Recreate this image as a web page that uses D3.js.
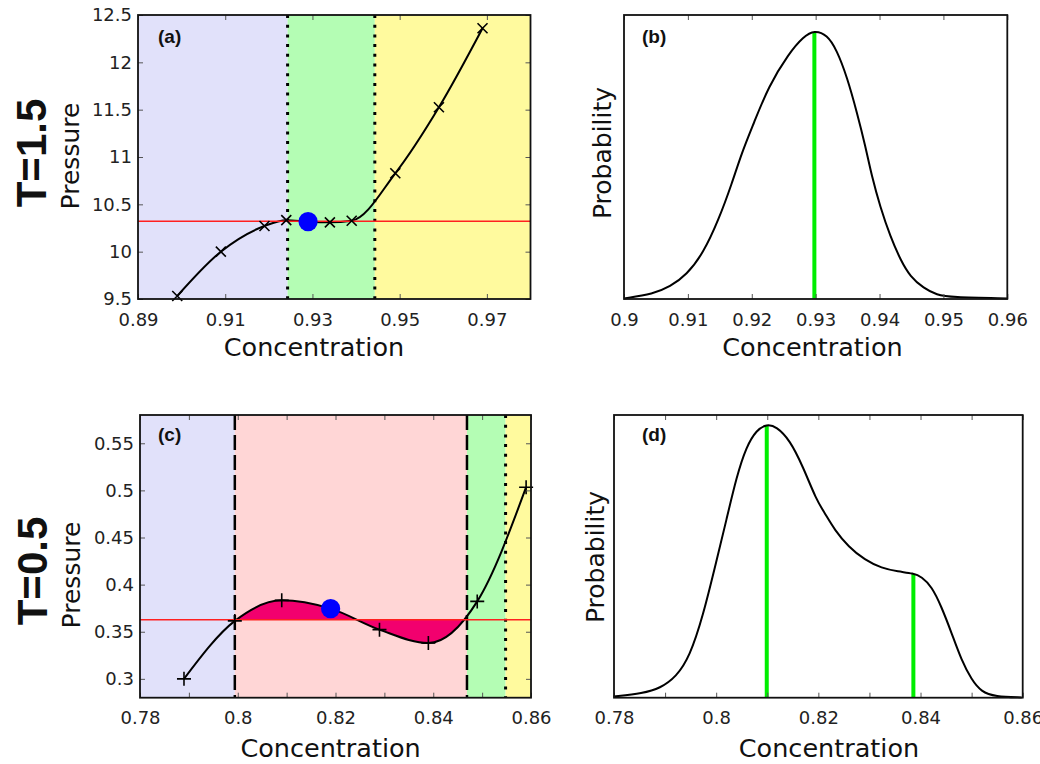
<!DOCTYPE html>
<html><head><meta charset="utf-8">
<script src="https://cdn.jsdelivr.net/npm/d3@7"></script>
<style>body{margin:0;background:#fff} svg{display:block}</style>
</head><body><svg id="chart" width="1040" height="764"></svg>
<script>
// ---------- Data: panel (a) T=1.5 ----------
const aConc = [0.899, 0.909, 0.919, 0.924, 0.934, 0.939, 0.949, 0.959, 0.969];
const aPres = [9.532, 10.0, 10.271, 10.333, 10.31, 10.327, 10.828, 11.525, 12.36];
const aBlue = [0.929, 10.317];
const aCoex = 10.322;
const aDotted = [0.9243, 0.9443];
const aXTicks = [0.89, 0.91, 0.93, 0.95, 0.97];
const aYTicks = [9.5, 10, 10.5, 11, 11.5, 12, 12.5];

// ---------- Data: panel (b) ----------
const bConc = [0.9, 0.9046, 0.9072, 0.9098, 0.9124, 0.9148, 0.9169, 0.9184, 0.9203, 0.9226, 0.9258, 0.9281, 0.9298,
               0.9318, 0.9333, 0.9349, 0.9365, 0.9378, 0.9388, 0.9401, 0.9417, 0.9433, 0.9448, 0.9469, 0.949, 0.9511, 0.96];
const bProb = [0.002, 0.018, 0.043, 0.085, 0.161, 0.278, 0.407, 0.513, 0.618, 0.748, 0.865, 0.924, 0.947,
               0.930, 0.877, 0.783, 0.654, 0.537, 0.431, 0.325, 0.219, 0.137, 0.079, 0.038, 0.014, 0.006, 0.002];
const bGreen = [[0.9298, 0.94]];
const bXTicks = [0.9, 0.91, 0.92, 0.93, 0.94, 0.95, 0.96];

// ---------- Data: panel (c) T=0.5 ----------
const cConc = [0.789, 0.7994, 0.809, 0.829, 0.839, 0.849, 0.859];
const cPres = [0.300, 0.3615, 0.3833, 0.3522, 0.338, 0.3822, 0.5034];
const cBlue = [0.819, 0.3745];
const cCoex = 0.3628;
const cDashed = [0.7994, 0.8469];
const cDotted = [0.8548];
const cXTicks = [0.78, 0.79, 0.80, 0.81, 0.82, 0.83, 0.84, 0.85, 0.86];
const cXLabels = [0.78, 0.80, 0.82, 0.84, 0.86];
const cYTicks = [0.3, 0.35, 0.4, 0.45, 0.5, 0.55];

// ---------- Data: panel (d) ----------
const dConc = [0.7799, 0.7857, 0.789, 0.7922, 0.7948, 0.7974, 0.8001, 0.802, 0.804, 0.8059, 0.8079, 0.8099, 0.8118, 0.8144, 0.817, 0.8196,
               0.8213, 0.8232, 0.8259, 0.8291, 0.8324, 0.8356, 0.8386, 0.8402, 0.8422, 0.8441, 0.8461, 0.848, 0.85, 0.8519, 0.8546, 0.8598];
const dProb = [0.004, 0.016, 0.033, 0.074, 0.145, 0.287, 0.487, 0.629, 0.782, 0.888, 0.947, 0.968, 0.959, 0.912, 0.817, 0.70,
               0.652, 0.593, 0.534, 0.487, 0.458, 0.446, 0.44, 0.428, 0.393, 0.322, 0.228, 0.133, 0.063, 0.021, 0.004, 0.001];
const dGreen = [[0.8099, 0.962], [0.8386, 0.438]];
const dXTicks = [0.78, 0.79, 0.80, 0.81, 0.82, 0.83, 0.84, 0.85, 0.86];
const dXLabels = [0.78, 0.80, 0.82, 0.84, 0.86];

// ---------- Colours ----------
const colBlueBg = "#e1e1fa", colGreenBg = "#b4fdb4", colYellowBg = "#fffa9e", colPinkBg = "#ffd6d6";
const colFill = "#f2006e", colRed = "#ff2020", colDot = "#0000ff", colGreen = "#00ee00";

const svg = d3.select("#chart");
svg.append("rect").attr("width", 1040).attr("height", 764).attr("fill", "#fff");
const defs = svg.append("defs");

const boxA = {l: 138, r: 530.5, t: 15, b: 299};
const boxB = {l: 624, r: 1007.3, t: 15, b: 299};
const boxC = {l: 140, r: 531, t: 415, b: 697.7};
const boxD = {l: 614, r: 1022.7, t: 415, b: 697.7};

function scales(box, xd, yd) {
  return {x: d3.scaleLinear().domain(xd).range([box.l, box.r]),
          y: d3.scaleLinear().domain(yd).range([box.b, box.t])};
}
const fmt = d => String(+d.toFixed(3));
const isLab = (d, labs) => labs.some(v => Math.abs(v - d) < 1e-9);

function axes(box, s, xTicks, xLabels, yTicks) {
  const g = svg.append("g");
  const style = sel => {
    sel.select(".domain").remove();
    sel.selectAll(".tick line").attr("stroke", "#555").attr("stroke-width", 1);
    sel.selectAll(".tick text").attr("font-family", "DejaVu Sans").attr("font-size", 18).attr("fill", "#222");
  };
  g.append("g").attr("transform", `translate(0,${box.b})`)
    .call(d3.axisBottom(s.x).tickValues(xTicks).tickSize(-5).tickPadding(14)
      .tickFormat(d => isLab(d, xLabels) ? fmt(d) : "")).call(style);
  g.append("g").attr("transform", `translate(0,${box.t})`)
    .call(d3.axisTop(s.x).tickValues(xTicks).tickSize(-5).tickFormat("")).call(style);
  if (yTicks) {
    g.append("g").attr("transform", `translate(${box.l},0)`)
      .call(d3.axisLeft(s.y).tickValues(yTicks).tickSize(-5).tickPadding(6).tickFormat(fmt)).call(style);
    g.append("g").attr("transform", `translate(${box.r},0)`)
      .call(d3.axisRight(s.y).tickValues(yTicks).tickSize(-5).tickFormat("")).call(style);
  }
  g.append("rect").attr("x", box.l).attr("y", box.t).attr("width", box.r - box.l).attr("height", box.b - box.t)
    .attr("fill", "none").attr("stroke", "#111").attr("stroke-width", 1.8);
}

function bg(box, s, lo, hi, col) {
  svg.append("rect").attr("x", s.x(lo)).attr("y", box.t).attr("width", s.x(hi) - s.x(lo)).attr("height", box.b - box.t).attr("fill", col);
}
function vline(box, s, c, dash, w) {
  svg.append("line").attr("x1", s.x(c)).attr("x2", s.x(c)).attr("y1", box.t).attr("y2", box.b)
    .attr("stroke", "#000").attr("stroke-width", w).attr("stroke-dasharray", dash);
}
function text(x, y, str, size, opts = {}) {
  const t = svg.append("text").attr("x", x).attr("y", y).attr("font-family", opts.family || "DejaVu Sans")
    .attr("font-size", size).attr("font-weight", opts.weight || "normal").attr("fill", "#111")
    .attr("text-anchor", opts.anchor || "middle").text(str);
  if (opts.rotate) t.attr("transform", `rotate(-90,${x},${y})`);
  return t;
}

// ================= Panel (a) =================
{
  const s = scales(boxA, [0.89, 0.98], [9.5, 12.5]);
  bg(boxA, s, 0.89, aDotted[0], colBlueBg);
  bg(boxA, s, aDotted[0], aDotted[1], colGreenBg);
  bg(boxA, s, aDotted[1], 0.98, colYellowBg);
  aDotted.forEach(c => vline(boxA, s, c, "3,6.7", 3));
  const nodes = aConc.map((c, i) => ({c, p: aPres[i]})).concat([{c: aBlue[0], p: aBlue[1]}]).sort((a, b) => a.c - b.c);
  const line = d3.line().x(d => s.x(d.c)).y(d => s.y(d.p)).curve(d3.curveMonotoneX);
  svg.append("path").attr("d", line(nodes)).attr("fill", "none").attr("stroke", "#000").attr("stroke-width", 2);
  svg.append("line").attr("x1", boxA.l).attr("x2", boxA.r).attr("y1", s.y(aCoex)).attr("y2", s.y(aCoex))
    .attr("stroke", colRed).attr("stroke-width", 1.5);
  aConc.forEach((c, i) => svg.append("path").attr("transform", `translate(${s.x(c)},${s.y(aPres[i])})`)
    .attr("d", "M-5,-5L5,5M-5,5L5,-5").attr("stroke", "#000").attr("stroke-width", 1.6).attr("fill", "none"));
  svg.append("circle").attr("cx", s.x(aBlue[0])).attr("cy", s.y(aBlue[1])).attr("r", 9.6).attr("fill", colDot);
  axes(boxA, s, aXTicks, aXTicks, aYTicks);
  text(158, 43, "(a)", 19, {weight: "bold", anchor: "start", family: "Liberation Sans"});
  text(79, 156, "Pressure", 25, {rotate: true});
  text(314, 356, "Concentration", 25.5);
  text(46, 153, "T=1.5", 42, {rotate: true, weight: "bold", family: "Liberation Sans"});
}

// ================= Panel (b) =================
{
  const s = scales(boxB, [0.9, 0.96], [0, 1]);
  bGreen.forEach(([c, v]) => svg.append("line").attr("x1", s.x(c)).attr("x2", s.x(c)).attr("y1", s.y(0)).attr("y2", s.y(v))
    .attr("stroke", colGreen).attr("stroke-width", 4));
  const line = d3.line().x((d, i) => s.x(bConc[i])).y(d => s.y(d)).curve(d3.curveBasis);
  svg.append("path").attr("d", line(bProb)).attr("fill", "none").attr("stroke", "#000").attr("stroke-width", 2);
  axes(boxB, s, bXTicks, bXTicks, null);
  text(642, 43, "(b)", 19, {weight: "bold", anchor: "start", family: "Liberation Sans"});
  text(611, 153, "Probability", 25, {rotate: true});
  text(812.5, 356, "Concentration", 25.5);
}

// ================= Panel (c) =================
{
  const s = scales(boxC, [0.78, 0.86], [0.28, 0.58]);
  bg(boxC, s, 0.78, cDashed[0], colBlueBg);
  bg(boxC, s, cDashed[0], cDashed[1], colPinkBg);
  bg(boxC, s, cDashed[1], cDotted[0], colGreenBg);
  bg(boxC, s, cDotted[0], 0.86, colYellowBg);
  const nodes = cConc.map((c, i) => ({c, p: cPres[i]})).concat([{c: cBlue[0], p: cBlue[1]}]).sort((a, b) => a.c - b.c);
  defs.append("clipPath").attr("id", "clipFill").append("rect")
    .attr("x", s.x(cDashed[0])).attr("y", boxC.t).attr("width", s.x(cDashed[1]) - s.x(cDashed[0])).attr("height", boxC.b - boxC.t);
  const area = d3.area().x(d => s.x(d.c)).y0(s.y(cCoex)).y1(d => s.y(d.p)).curve(d3.curveMonotoneX);
  svg.append("path").attr("d", area(nodes)).attr("fill", colFill).attr("clip-path", "url(#clipFill)");
  cDashed.forEach(c => vline(boxC, s, c, "15,5", 2.5));
  cDotted.forEach(c => vline(boxC, s, c, "3,6.7", 3));
  const line = d3.line().x(d => s.x(d.c)).y(d => s.y(d.p)).curve(d3.curveMonotoneX);
  svg.append("path").attr("d", line(nodes)).attr("fill", "none").attr("stroke", "#000").attr("stroke-width", 2);
  svg.append("line").attr("x1", boxC.l).attr("x2", boxC.r).attr("y1", s.y(cCoex)).attr("y2", s.y(cCoex))
    .attr("stroke", colRed).attr("stroke-width", 1.5);
  cConc.forEach((c, i) => svg.append("path").attr("transform", `translate(${s.x(c)},${s.y(cPres[i])})`)
    .attr("d", "M-7,0H7M0,-7V7").attr("stroke", "#000").attr("stroke-width", 1.6).attr("fill", "none"));
  svg.append("circle").attr("cx", s.x(cBlue[0])).attr("cy", s.y(cBlue[1])).attr("r", 9.6).attr("fill", colDot);
  axes(boxC, s, cXTicks, cXLabels, cYTicks);
  text(158, 441, "(c)", 19, {weight: "bold", anchor: "start", family: "Liberation Sans"});
  text(80, 575, "Pressure", 25, {rotate: true});
  text(330.6, 757, "Concentration", 25.5);
  text(47, 571, "T=0.5", 42, {rotate: true, weight: "bold", family: "Liberation Sans"});
}

// ================= Panel (d) =================
{
  const s = scales(boxD, [0.78, 0.86], [0, 1]);
  dGreen.forEach(([c, v]) => svg.append("line").attr("x1", s.x(c)).attr("x2", s.x(c)).attr("y1", s.y(0)).attr("y2", s.y(v))
    .attr("stroke", colGreen).attr("stroke-width", 4));
  const line = d3.line().x((d, i) => s.x(dConc[i])).y(d => s.y(d)).curve(d3.curveBasis);
  svg.append("path").attr("d", line(dProb)).attr("fill", "none").attr("stroke", "#000").attr("stroke-width", 2);
  axes(boxD, s, dXTicks, dXLabels, null);
  text(642, 441, "(d)", 19, {weight: "bold", anchor: "start", family: "Liberation Sans"});
  text(604, 557, "Probability", 25, {rotate: true});
  text(829, 757, "Concentration", 25.5);
}
</script>
</body></html>
